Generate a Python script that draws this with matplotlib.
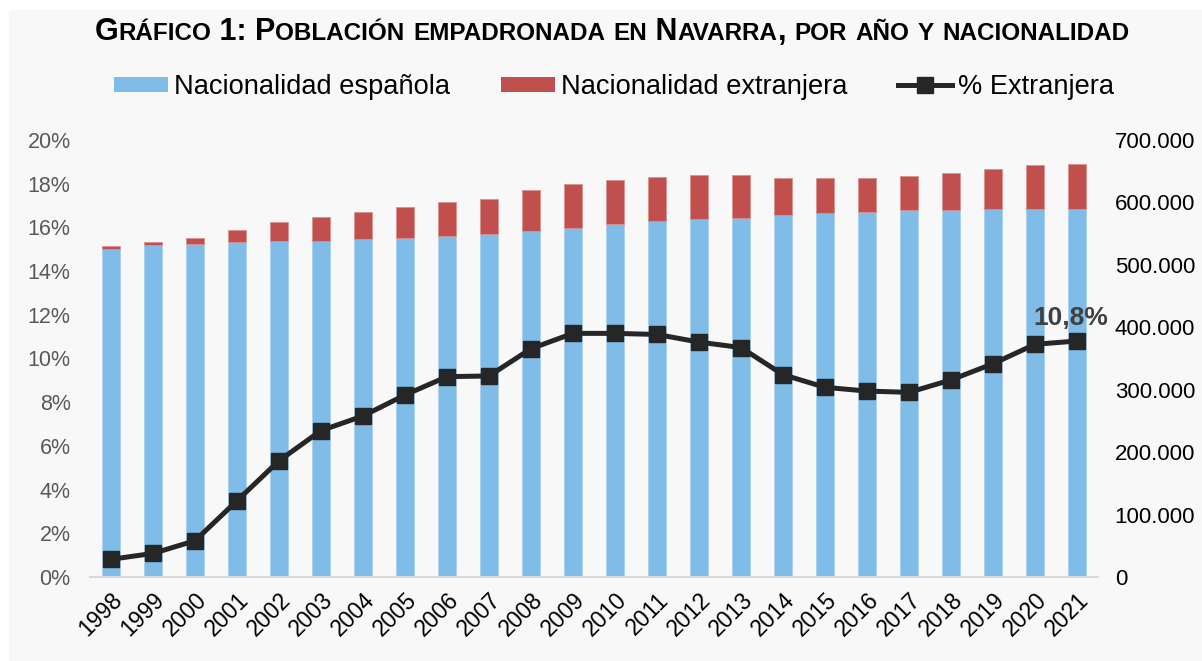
import numpy as np
import matplotlib.pyplot as plt
from matplotlib.lines import Line2D
from matplotlib.patches import Patch, Rectangle
from matplotlib.ticker import FuncFormatter

# Data
years = [str(y) for y in range(1998, 2022)]
spanish = [525700, 531200, 534000, 536600, 538700, 538300, 541900, 542700,
           545900, 549300, 554800, 559300, 565100, 569600, 574200, 575800,
           580400, 583200, 585200, 588000, 588400, 589400, 590200, 590100]
foreign = [4300, 5800, 9000, 19400, 30300, 38700, 43100, 49300,
           55100, 55700, 64700, 70200, 70900, 71100, 69200, 67600,
           59200, 55400, 54400, 54300, 58300, 63700, 70300, 71400]
pct_foreign = [0.81, 1.08, 1.66, 3.49, 5.32, 6.70, 7.37, 8.33,
               9.17, 9.20, 10.45, 11.15, 11.15, 11.10, 10.75, 10.50,
               9.26, 8.68, 8.51, 8.45, 9.02, 9.76, 10.65, 10.80]

BLUE = "#7fbce7"
RED = "#c0504d"
LINE = "#262626"
BG = "#f8f8f8"

plt.rcParams['font.family'] = ['Liberation Sans', 'DejaVu Sans']

W, H = 1202, 661
fig = plt.figure(figsize=(W / 100, H / 100), dpi=100)
fig.patch.set_facecolor("white")
fig.add_artist(Rectangle((9 / W, 0), 1 - 9 / W, 1 - 10 / H, transform=fig.transFigure,
                         facecolor=BG, edgecolor="none", zorder=-10))

# bars on the main axes (right-hand scale), line on the twin (left-hand scale)
ax = fig.add_axes([90 / W, (H - 577) / H, 1008 / W, 437 / H])
ax.set_facecolor("none")
ax2 = ax.twinx()

x = np.arange(len(years))
ax.bar(x, spanish, width=0.41, color=BLUE, edgecolor="#a9d3f0", linewidth=0.6, zorder=2)
ax.bar(x, foreign, bottom=spanish, width=0.41, color=RED, edgecolor="#d9908e",
       linewidth=0.6, zorder=2)
ax.set_xlim(-0.5, len(years) - 0.5)
ax.set_ylim(0, 700000)
ax.set_yticks(np.arange(0, 700001, 100000))
ax.yaxis.set_major_formatter(FuncFormatter(lambda v, p: f"{int(v):,}".replace(",", ".")))
ax.yaxis.tick_right()
ax.tick_params(axis="y", length=0, labelsize=16, colors="black", pad=12,
               labelleft=False, labelright=True)
ax.set_xticks(x)
ax.set_xticklabels(years, rotation=45, ha="right", rotation_mode="anchor")
ax.tick_params(axis="x", length=0, labelsize=16.5, pad=8)
for s in ["top", "left", "right"]:
    ax.spines[s].set_visible(False)
ax.spines["bottom"].set_color("#d9d9d9")
ax.spines["bottom"].set_linewidth(1.5)

ax2.plot(x, pct_foreign, color=LINE, linewidth=3.6, marker="s", markersize=12,
         markerfacecolor=LINE, markeredgecolor=LINE, zorder=5)
ax2.set_ylim(0, 20)
ax2.set_yticks(np.arange(0, 21, 2))
ax2.yaxis.set_major_formatter(FuncFormatter(lambda v, p: f"{int(v)}%"))
ax2.yaxis.tick_left()
ax2.tick_params(axis="y", length=0, labelsize=15.5, colors="#595959", pad=14,
                labelleft=True, labelright=False)
for s in ["top", "left", "right", "bottom"]:
    ax2.spines[s].set_visible(False)
ax2.annotate("10,8%", (x[-1], pct_foreign[-1]), xytext=(-6, 23), textcoords="offset pixels",
             ha="center", va="center", fontsize=19, fontweight="bold", color="#404040")

# legend
handles = [Patch(facecolor=BLUE, edgecolor="none"),
           Patch(facecolor=RED, edgecolor="none"),
           Line2D([], [], color=LINE, linewidth=3.6, marker="s", markersize=11)]
fig.legend(handles, ["Nacionalidad española", "Nacionalidad extranjera", "% Extranjera"],
           loc="center", bbox_to_anchor=(614 / W, 1 - 87 / H), ncol=3, frameon=False,
           fontsize=19.6, handlelength=2.0, handleheight=0.5, handletextpad=0.22,
           columnspacing=1.85)

# title in small caps, drawn as runs of big and small capitals
title = "Gráfico 1: Población empadronada en Navarra, por año y nacionalidad"
runs = []
for ch in title:
    small = ch.islower()
    if runs and runs[-1][1] == small:
        runs[-1][0] += ch.upper()
    else:
        runs.append([ch.upper(), small])

renderer = fig.canvas.get_renderer()
texts = []
for txt, small in runs:
    t = fig.text(0, 1 - 40 / H, txt, fontsize=17.5 if small else 22, fontweight="bold",
                 ha="left", va="baseline", color="black")
    texts.append(t)
widths = [t.get_window_extent(renderer).width for t in texts]
xpos = 612 - sum(widths) / 2
for t, w in zip(texts, widths):
    t.set_x(xpos / W)
    xpos += w

fig.savefig("out.png", dpi=100, facecolor=fig.get_facecolor())
